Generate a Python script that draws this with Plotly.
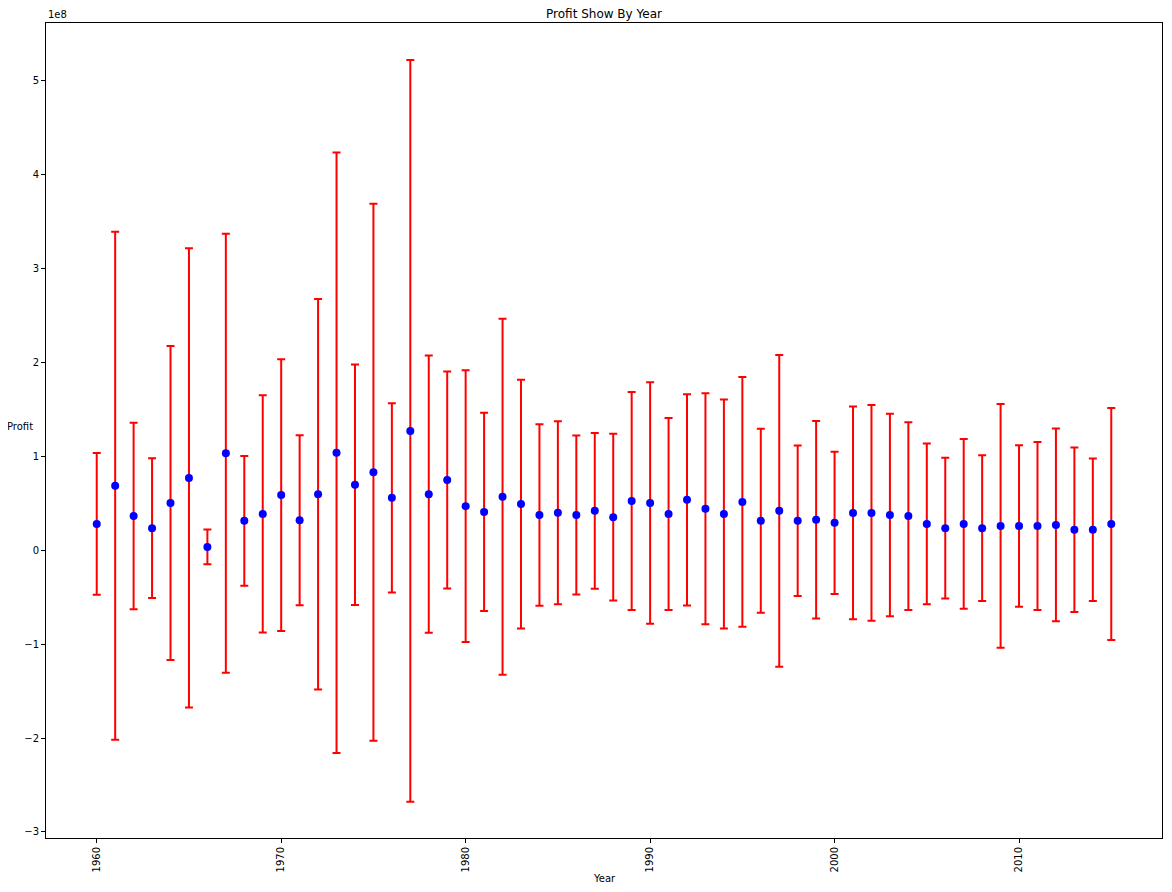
import plotly.graph_objects as go

years = list(range(1960, 2016))

# mean profit per year (raw units)
profit_mean = [
    0.281e8, 0.687e8, 0.365e8, 0.236e8, 0.503e8, 0.771e8, 0.036e8, 1.033e8, 0.314e8, 0.387e8,
    0.588e8, 0.320e8, 0.598e8, 1.039e8, 0.698e8, 0.832e8, 0.559e8, 1.272e8, 0.598e8, 0.749e8,
    0.470e8, 0.409e8, 0.570e8, 0.492e8, 0.376e8, 0.399e8, 0.376e8, 0.420e8, 0.353e8, 0.526e8,
    0.503e8, 0.387e8, 0.537e8, 0.442e8, 0.387e8, 0.515e8, 0.314e8, 0.420e8, 0.314e8, 0.325e8,
    0.292e8, 0.398e8, 0.398e8, 0.376e8, 0.365e8, 0.281e8, 0.236e8, 0.281e8, 0.236e8, 0.259e8,
    0.259e8, 0.259e8, 0.270e8, 0.219e8, 0.219e8, 0.281e8,
]

# standard deviation of profit per year (raw units)
profit_std = [
    0.755e8, 2.705e8, 0.994e8, 0.744e8, 1.673e8, 2.446e8, 0.186e8, 2.338e8, 0.691e8, 1.264e8,
    1.448e8, 0.905e8, 2.080e8, 3.198e8, 1.280e8, 2.860e8, 1.008e8, 3.950e8, 1.476e8, 1.156e8,
    1.448e8, 1.055e8, 1.896e8, 1.325e8, 0.966e8, 0.975e8, 0.846e8, 0.830e8, 0.888e8, 1.161e8,
    1.286e8, 1.022e8, 1.125e8, 1.230e8, 1.219e8, 1.330e8, 0.980e8, 1.660e8, 0.802e8, 1.053e8,
    0.758e8, 1.133e8, 1.150e8, 1.078e8, 1.000e8, 0.857e8, 0.750e8, 0.905e8, 0.777e8, 1.298e8,
    0.860e8, 0.894e8, 1.027e8, 0.877e8, 0.760e8, 1.236e8,
]

x_ticks = [1960, 1970, 1980, 1990, 2000, 2010]
y_tick_vals = [-3e8, -2e8, -1e8, 0, 1e8, 2e8, 3e8, 4e8, 5e8]
y_tick_text = ["\u22123", "\u22122", "\u22121", "0", "1", "2", "3", "4", "5"]

FONT = "DejaVu Sans"
# the page body has an 8px default margin, so the figure is drawn 8px smaller
W, H = 1164, 884

fig = go.Figure()

# error bars
fig.add_trace(go.Scatter(
    x=years, y=profit_mean, mode="markers",
    marker=dict(color="blue", size=8, opacity=0),
    error_y=dict(type="data", array=profit_std, visible=True,
                 color="red", thickness=2, width=4),
    showlegend=False, hoverinfo="skip",
))
# markers on top
fig.add_trace(go.Scatter(
    x=years, y=profit_mean, mode="markers",
    marker=dict(color="blue", size=8, line=dict(width=0)),
    showlegend=False,
))

fig.update_layout(
    width=W, height=H,
    margin=dict(l=38, r=10, t=15, b=54, autoexpand=False),
    paper_bgcolor="white", plot_bgcolor="white",
    font=dict(family=FONT, size=10, color="black"),
    title=dict(text="Profit Show By Year", x=0.5, xref="paper", xanchor="center",
               y=1 - 6 / H, yref="container", yanchor="middle",
               font=dict(family=FONT, size=12, color="black")),
)

fig.update_xaxes(
    range=[1957.25, 2017.75], tickmode="array", tickvals=x_ticks,
    tickangle=-90, ticks="outside", ticklen=4, tickwidth=1, tickcolor="black",
    showline=True, linecolor="black", linewidth=1, mirror=True, automargin=False,
    showgrid=False, zeroline=False, tickfont=dict(size=10),
)
fig.update_yaxes(
    range=[-3.065e8, 5.617e8], tickmode="array", tickvals=y_tick_vals, ticktext=y_tick_text,
    ticks="outside", ticklen=4, tickwidth=1, tickcolor="black",
    showline=True, linecolor="black", linewidth=1, mirror=True, automargin=False,
    showgrid=False, zeroline=False, tickfont=dict(size=10),
)

fig.add_annotation(text="1e8", xref="paper", yref="paper", x=0, y=1,
                   xanchor="left", yanchor="bottom", yshift=1, showarrow=False,
                   font=dict(family=FONT, size=10, color="black"))
fig.add_annotation(text="Profit", xref="paper", yref="paper", x=-0.0233, y=0.505,
                   xanchor="center", yanchor="middle", showarrow=False,
                   font=dict(family=FONT, size=10, color="black"))
fig.add_annotation(text="Year", xref="paper", yref="paper", x=0.5, y=-0.0495,
                   xanchor="center", yanchor="middle", showarrow=False,
                   font=dict(family=FONT, size=10, color="black"))

fig.write_html("out.html")
